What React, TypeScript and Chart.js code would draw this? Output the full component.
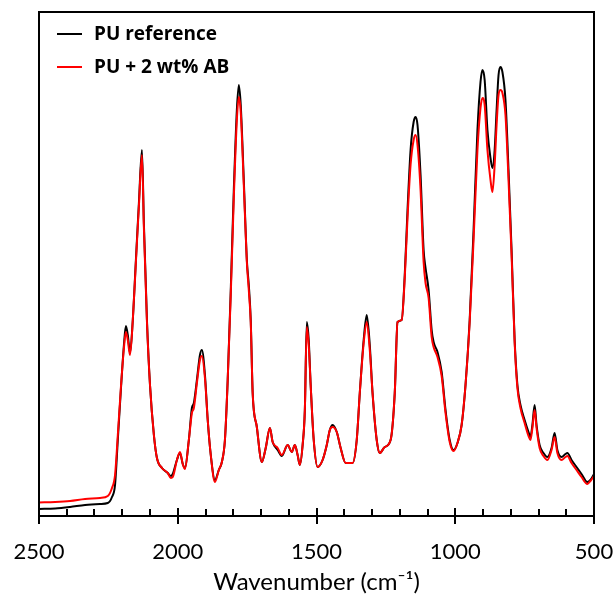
import React, { useEffect, useRef } from "react";
import { Chart, registerables } from "chart.js";

Chart.register(...registerables);

// Wavenumber (cm-1), from high to low
const wavenumbers = [
  2500, 2442, 2388, 2334, 2280, 2252, 2237, 2226, 2216, 2205, 2194, 2187, 2180, 2172, 2162, 2151, 2140, 2129, 2122, 2111,
  2100, 2086, 2075, 2057, 2036, 2025, 2018, 2003, 1992, 1982, 1974, 1960, 1949, 1942, 1931, 1920, 1913, 1902, 1892, 1881,
  1866, 1852, 1841, 1830, 1820, 1809, 1798, 1787, 1780, 1773, 1762, 1751, 1744, 1737, 1730, 1715, 1697, 1683, 1668, 1658,
  1640, 1625, 1604, 1589, 1578, 1568, 1560, 1550, 1542, 1535, 1528, 1521, 1510, 1496, 1478, 1463, 1452, 1442, 1427, 1413,
  1395, 1370, 1355, 1344, 1330, 1319, 1308, 1298, 1283, 1272, 1254, 1233, 1218, 1208, 1193, 1182, 1172, 1161, 1150, 1143,
  1136, 1125, 1114, 1107, 1096, 1085, 1078, 1064, 1049, 1035, 1020, 1006, 992, 977, 963, 948, 934, 920, 909, 902,
  894, 884, 873, 866, 858, 851, 844, 837, 830, 819, 808, 797, 786, 776, 765, 750, 736, 729, 722, 714,
  707, 696, 682, 668, 653, 642, 632, 617, 603, 596, 581, 563, 545, 524, 513, 500,
];

// Absorbance (a.u.)
const puReference = [
  0.014, 0.015, 0.018, 0.022, 0.024, 0.026, 0.038, 0.062, 0.152, 0.252, 0.342, 0.380, 0.362, 0.326, 0.392, 0.510, 0.626, 0.732, 0.584, 0.392,
  0.262, 0.162, 0.116, 0.096, 0.086, 0.080, 0.084, 0.112, 0.126, 0.104, 0.096, 0.152, 0.216, 0.226, 0.272, 0.322, 0.332, 0.282, 0.192, 0.122,
  0.072, 0.092, 0.108, 0.152, 0.272, 0.452, 0.652, 0.812, 0.862, 0.822, 0.672, 0.512, 0.462, 0.392, 0.246, 0.178, 0.108, 0.136, 0.176, 0.148,
  0.132, 0.120, 0.142, 0.128, 0.142, 0.122, 0.102, 0.142, 0.212, 0.388, 0.352, 0.262, 0.152, 0.098, 0.112, 0.142, 0.172, 0.182, 0.168, 0.136,
  0.106, 0.106, 0.152, 0.246, 0.352, 0.402, 0.342, 0.246, 0.152, 0.126, 0.138, 0.152, 0.246, 0.388, 0.392, 0.482, 0.612, 0.732, 0.788, 0.798,
  0.782, 0.682, 0.532, 0.496, 0.452, 0.372, 0.348, 0.328, 0.288, 0.212, 0.152, 0.132, 0.146, 0.182, 0.262, 0.392, 0.572, 0.772, 0.868, 0.892,
  0.872, 0.772, 0.716, 0.696, 0.732, 0.812, 0.882, 0.898, 0.888, 0.832, 0.692, 0.532, 0.352, 0.262, 0.222, 0.192, 0.168, 0.158, 0.182, 0.222,
  0.182, 0.142, 0.126, 0.118, 0.136, 0.166, 0.132, 0.118, 0.124, 0.126, 0.112, 0.098, 0.084, 0.068, 0.072, 0.084,
];

const puAB = [
  0.027, 0.028, 0.030, 0.034, 0.036, 0.040, 0.056, 0.082, 0.162, 0.256, 0.336, 0.368, 0.352, 0.322, 0.392, 0.506, 0.620, 0.722, 0.576, 0.388,
  0.262, 0.162, 0.116, 0.096, 0.086, 0.076, 0.078, 0.112, 0.128, 0.104, 0.094, 0.152, 0.206, 0.216, 0.266, 0.312, 0.320, 0.276, 0.192, 0.122,
  0.068, 0.092, 0.108, 0.152, 0.272, 0.442, 0.636, 0.792, 0.838, 0.808, 0.662, 0.508, 0.452, 0.388, 0.246, 0.178, 0.108, 0.136, 0.176, 0.148,
  0.136, 0.122, 0.142, 0.128, 0.142, 0.122, 0.102, 0.142, 0.212, 0.378, 0.342, 0.262, 0.152, 0.098, 0.112, 0.142, 0.172, 0.178, 0.168, 0.136,
  0.106, 0.106, 0.152, 0.246, 0.346, 0.388, 0.332, 0.246, 0.152, 0.126, 0.138, 0.152, 0.246, 0.388, 0.392, 0.476, 0.596, 0.702, 0.752, 0.762,
  0.742, 0.652, 0.508, 0.466, 0.436, 0.358, 0.338, 0.318, 0.280, 0.206, 0.148, 0.130, 0.146, 0.182, 0.262, 0.388, 0.552, 0.732, 0.816, 0.836,
  0.822, 0.732, 0.672, 0.648, 0.702, 0.782, 0.842, 0.852, 0.846, 0.802, 0.672, 0.522, 0.348, 0.256, 0.216, 0.186, 0.160, 0.152, 0.176, 0.212,
  0.176, 0.136, 0.120, 0.112, 0.132, 0.158, 0.126, 0.112, 0.118, 0.120, 0.106, 0.092, 0.078, 0.064, 0.070, 0.080,
];

const seriesLabels = ["PU reference", "PU + 2 wt% AB"];
const seriesColors = ["#000000", "#ff0000"];
const xMin = 500;
const xMax = 2500;
const xMajorTicks = [2500, 2000, 1500, 1000, 500];
const xMinorTicks = [2400, 2300, 2200, 2100, 1900, 1800, 1700, 1600, 1400, 1300, 1200, 1100, 900, 800, 700, 600];
const xTitle = "Wavenumber (cm\u207B\u00B9)";

const framePlugin = {
  id: "framePlugin",
  afterDatasetsDraw(chart: any) {
    const ctx = chart.ctx;
    const a = chart.chartArea;
    const xs = chart.scales.x;
    ctx.save();
    ctx.strokeStyle = "#000";
    ctx.lineWidth = 2;
    ctx.strokeRect(a.left, a.top, a.right - a.left, a.bottom - a.top);
    const bottom = Math.round(a.bottom);
    ctx.beginPath();
    xMajorTicks.forEach((v) => {
      const px = Math.round(xs.getPixelForValue(v));
      ctx.moveTo(px, bottom - 8);
      ctx.lineTo(px, bottom + 8);
    });
    xMinorTicks.forEach((v) => {
      const px = Math.round(xs.getPixelForValue(v));
      ctx.moveTo(px, bottom - 7);
      ctx.lineTo(px, bottom);
    });
    ctx.stroke();
    ctx.restore();
  },
  afterDraw(chart: any) {
    const ctx = chart.ctx;
    const a = chart.chartArea;
    const xs = chart.scales.x;
    ctx.save();
    ctx.fillStyle = "#000";
    const bottom = Math.round(a.bottom);
    xMajorTicks.forEach((v) => {
      const px = Math.round(xs.getPixelForValue(v));
      ctx.fillRect(px - 1, bottom - 8, 2, 16);
    });
    xMinorTicks.forEach((v) => {
      const px = Math.round(xs.getPixelForValue(v));
      ctx.fillRect(px - 1, bottom - 7, 2, 7);
    });
    // legend
    const rows = [34, 67];
    ctx.font = "bold 19px 'Open Sans'";
    ctx.textBaseline = "middle";
    ctx.textAlign = "left";
    chart.data.datasets.forEach((ds: any, i: number) => {
      const y = rows[i];
      ctx.fillStyle = ds.borderColor;
      ctx.fillRect(57, y - 1, 25, 2);
      ctx.fillStyle = "#000";
      ctx.fillText(ds.label, 94, y + 1);
    });
    ctx.restore();
  },
};

export default function App() {
  const ref = useRef<HTMLCanvasElement | null>(null);
  useEffect(() => {
    if (!ref.current) return;
    const series = [puReference, puAB];
    const chart = new Chart(ref.current, {
      type: "line",
      data: {
        datasets: series.map((vals, i) => ({
          label: seriesLabels[i],
          data: wavenumbers.map((w, j) => ({ x: w, y: vals[j] })),
          borderColor: seriesColors[i],
          backgroundColor: seriesColors[i],
          borderWidth: 2,
          pointRadius: 0,
          cubicInterpolationMode: "monotone" as const,
          order: i === 0 ? 1 : 0,
        })),
      },
      options: {
        animation: false,
        responsive: true,
        maintainAspectRatio: false,
        layout: { padding: { left: 39, right: 21, top: 12, bottom: 0 } },
        plugins: { legend: { display: false }, tooltip: { enabled: false } },
        scales: {
          x: {
            type: "linear",
            reverse: true,
            min: xMin,
            max: xMax,
            grid: { display: false },
            border: { display: false },
            afterBuildTicks: (s: any) => {
              s.ticks = xMajorTicks.map((v) => ({ value: v }));
            },
            afterFit: (s: any) => {
              s.height = 81;
              s.paddingLeft = 0;
              s.paddingRight = 0;
            },
            ticks: {
              color: "#000",
              font: { family: "Lato", size: 22 },
              padding: 15,
              maxRotation: 0,
              callback: (v: any) => String(v),
            },
            title: {
              display: true,
              text: xTitle,
              color: "#000",
              font: { family: "Lato", size: 24 },
              padding: { top: 0, bottom: 0 },
            },
          },
          y: { display: false, min: 0, max: 1.008 },
        },
      },
      plugins: [framePlugin],
    });
    return () => chart.destroy();
  }, []);
  return (
    <div style={{ position: "fixed", left: 0, top: 0, width: 615, height: 597, background: "#fff" }}>
      <canvas ref={ref} />
    </div>
  );
}
